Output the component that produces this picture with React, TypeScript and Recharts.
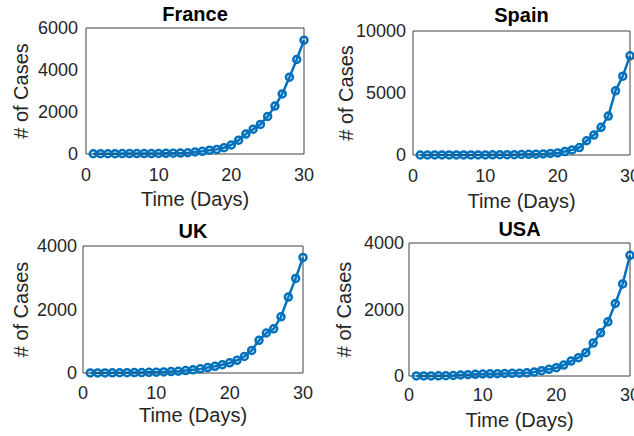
import { LineChart, Line, XAxis, YAxis } from "recharts";

const days = [1, 2, 3, 4, 5, 6, 7, 8, 9, 10, 11, 12, 13, 14, 15, 16, 17, 18, 19, 20, 21, 22, 23, 24, 25, 26, 27, 28, 29, 30];
const xTicks = [0, 10, 20, 30];

const franceCases = [12, 12, 12, 14, 18, 18, 19, 20, 22, 25, 30, 38, 45, 60, 95, 130, 180, 220, 300, 430, 660, 950, 1180, 1410, 1790, 2280, 2860, 3660, 4500, 5420];
const spainCases = [0, 0, 2, 2, 2, 2, 2, 2, 5, 10, 15, 20, 25, 30, 40, 55, 70, 90, 130, 170, 280, 410, 600, 1150, 1610, 2230, 3140, 5180, 6360, 8000];
const ukCases = [2, 2, 3, 5, 8, 10, 12, 15, 20, 25, 35, 45, 55, 75, 100, 130, 170, 210, 260, 320, 400, 520, 710, 1030, 1260, 1390, 1770, 2390, 2980, 3640];
const usaCases = [1, 1, 2, 5, 10, 15, 30, 40, 50, 60, 65, 70, 75, 80, 85, 95, 120, 160, 200, 250, 330, 450, 550, 700, 990, 1300, 1630, 2180, 2770, 3630];

const franceTicks = [0, 2000, 4000, 6000];
const spainTicks = [0, 5000, 10000];
const ukTicks = [0, 2000, 4000];
const usaTicks = [0, 2000, 4000];

const FONT = '"Liberation Sans", Arial, Helvetica, sans-serif';
const BLUE = "#0072BD";
const INK = "#262626";
const FRAME = "#404040";
const W = 317;
const H = 218;

type Layout = {
  x: number;
  y: number;
  l: number;
  t: number;
  r: number;
  b: number;
  titleY: number;
  xTickY: number;
  xLabelY: number;
  yLabelX: number;
  yGap: number;
};

function Panel({ title, values, yTicks, lay }: { title: string; values: number[]; yTicks: number[]; lay: Layout }) {
  const data = days.map((d, i) => ({ day: d, cases: values[i] }));
  const yMax = yTicks[yTicks.length - 1];
  const cx = (lay.l + lay.r) / 2;
  const cy = (lay.t + lay.b) / 2;

  const xTick = (p: any) => (
    <text x={p.x} y={lay.xTickY} textAnchor="middle" fontSize={18} fill={INK} fontFamily={FONT}>
      {p.payload.value}
    </text>
  );
  const yTick = (p: any) => (
    <text x={p.x - lay.yGap} y={p.y} dy="0.36em" textAnchor="end" fontSize={18} fill={INK} fontFamily={FONT}>
      {p.payload.value}
    </text>
  );

  return (
    <div style={{ position: "absolute", left: lay.x, top: lay.y }}>
      <LineChart width={W} height={H} data={data} margin={{ top: lay.t, right: W - lay.r, bottom: 0, left: 0 }}>
        <XAxis
          xAxisId="main"
          dataKey="day"
          type="number"
          domain={[0, 30]}
          ticks={xTicks}
          interval={0}
          height={H - lay.b}
          tickSize={0}
          tickMargin={0}
          tickLine={false}
          axisLine={{ stroke: FRAME }}
          tick={xTick}
          label={() => (
            <g>
              <text x={cx} y={lay.xLabelY} textAnchor="middle" fontSize={20} fill={INK} fontFamily={FONT}>
                Time (Days)
              </text>
              <text x={cx} y={lay.titleY} textAnchor="middle" fontSize={20} fontWeight="bold" fill="#000" fontFamily={FONT}>
                {title}
              </text>
            </g>
          )}
        />
        <XAxis
          xAxisId="bin"
          dataKey="day"
          type="number"
          domain={[0, 30]}
          ticks={xTicks}
          interval={0}
          orientation="bottom"
          mirror
          tickSize={3}
          tick={false}
          axisLine={false}
          tickLine={{ stroke: FRAME }}
        />
        <XAxis
          xAxisId="top"
          dataKey="day"
          type="number"
          domain={[0, 30]}
          ticks={xTicks}
          interval={0}
          orientation="top"
          mirror
          tickSize={3}
          tick={false}
          axisLine={{ stroke: FRAME }}
          tickLine={{ stroke: FRAME }}
        />
        <YAxis
          yAxisId="main"
          type="number"
          domain={[0, yMax]}
          ticks={yTicks}
          interval={0}
          width={lay.l}
          tickSize={0}
          tickMargin={0}
          tickLine={false}
          axisLine={{ stroke: FRAME }}
          tick={yTick}
          label={() => (
            <text
              x={lay.yLabelX}
              y={cy}
              transform={`rotate(-90 ${lay.yLabelX} ${cy})`}
              textAnchor="middle"
              fontSize={20}
              fill={INK}
              fontFamily={FONT}
            >
              # of Cases
            </text>
          )}
        />
        <YAxis
          yAxisId="lin"
          type="number"
          domain={[0, yMax]}
          ticks={yTicks}
          interval={0}
          orientation="left"
          mirror
          tickSize={3}
          tick={false}
          axisLine={false}
          tickLine={{ stroke: FRAME }}
        />
        <YAxis
          yAxisId="right"
          type="number"
          domain={[0, yMax]}
          ticks={yTicks}
          interval={0}
          orientation="right"
          mirror
          tickSize={3}
          tick={false}
          axisLine={{ stroke: FRAME }}
          tickLine={{ stroke: FRAME }}
        />
        <Line
          xAxisId="main"
          yAxisId="main"
          type="linear"
          dataKey="cases"
          stroke={BLUE}
          strokeWidth={2.5}
          dot={{ r: 3.5, stroke: BLUE, strokeWidth: 2.5, fill: "none" }}
          activeDot={false}
          isAnimationActive={false}
        />
      </LineChart>
    </div>
  );
}

export default function App() {
  return (
    <div style={{ position: "absolute", left: 0, top: 0, width: 634, height: 436, background: "#fff", overflow: "hidden" }}>
      <Panel
        title="France"
        values={franceCases}
        yTicks={franceTicks}
        lay={{ x: 0, y: 0, l: 86, t: 28, r: 304, b: 154, titleY: 21, xTickY: 181, xLabelY: 206, yLabelX: 28, yGap: 8 }}
      />
      <Panel
        title="Spain"
        values={spainCases}
        yTicks={spainTicks}
        lay={{ x: 317, y: 0, l: 96, t: 31, r: 313, b: 155, titleY: 22, xTickY: 182, xLabelY: 208, yLabelX: 36, yGap: 7 }}
      />
      <Panel
        title="UK"
        values={ukCases}
        yTicks={ukTicks}
        lay={{ x: 0, y: 218, l: 83, t: 28, r: 303, b: 155, titleY: 20, xTickY: 181, xLabelY: 204, yLabelX: 28, yGap: 6 }}
      />
      <Panel
        title="USA"
        values={usaCases}
        yTicks={usaTicks}
        lay={{ x: 317, y: 218, l: 92, t: 25, r: 313, b: 158, titleY: 18, xTickY: 183, xLabelY: 209, yLabelX: 34, yGap: 5 }}
      />
    </div>
  );
}
